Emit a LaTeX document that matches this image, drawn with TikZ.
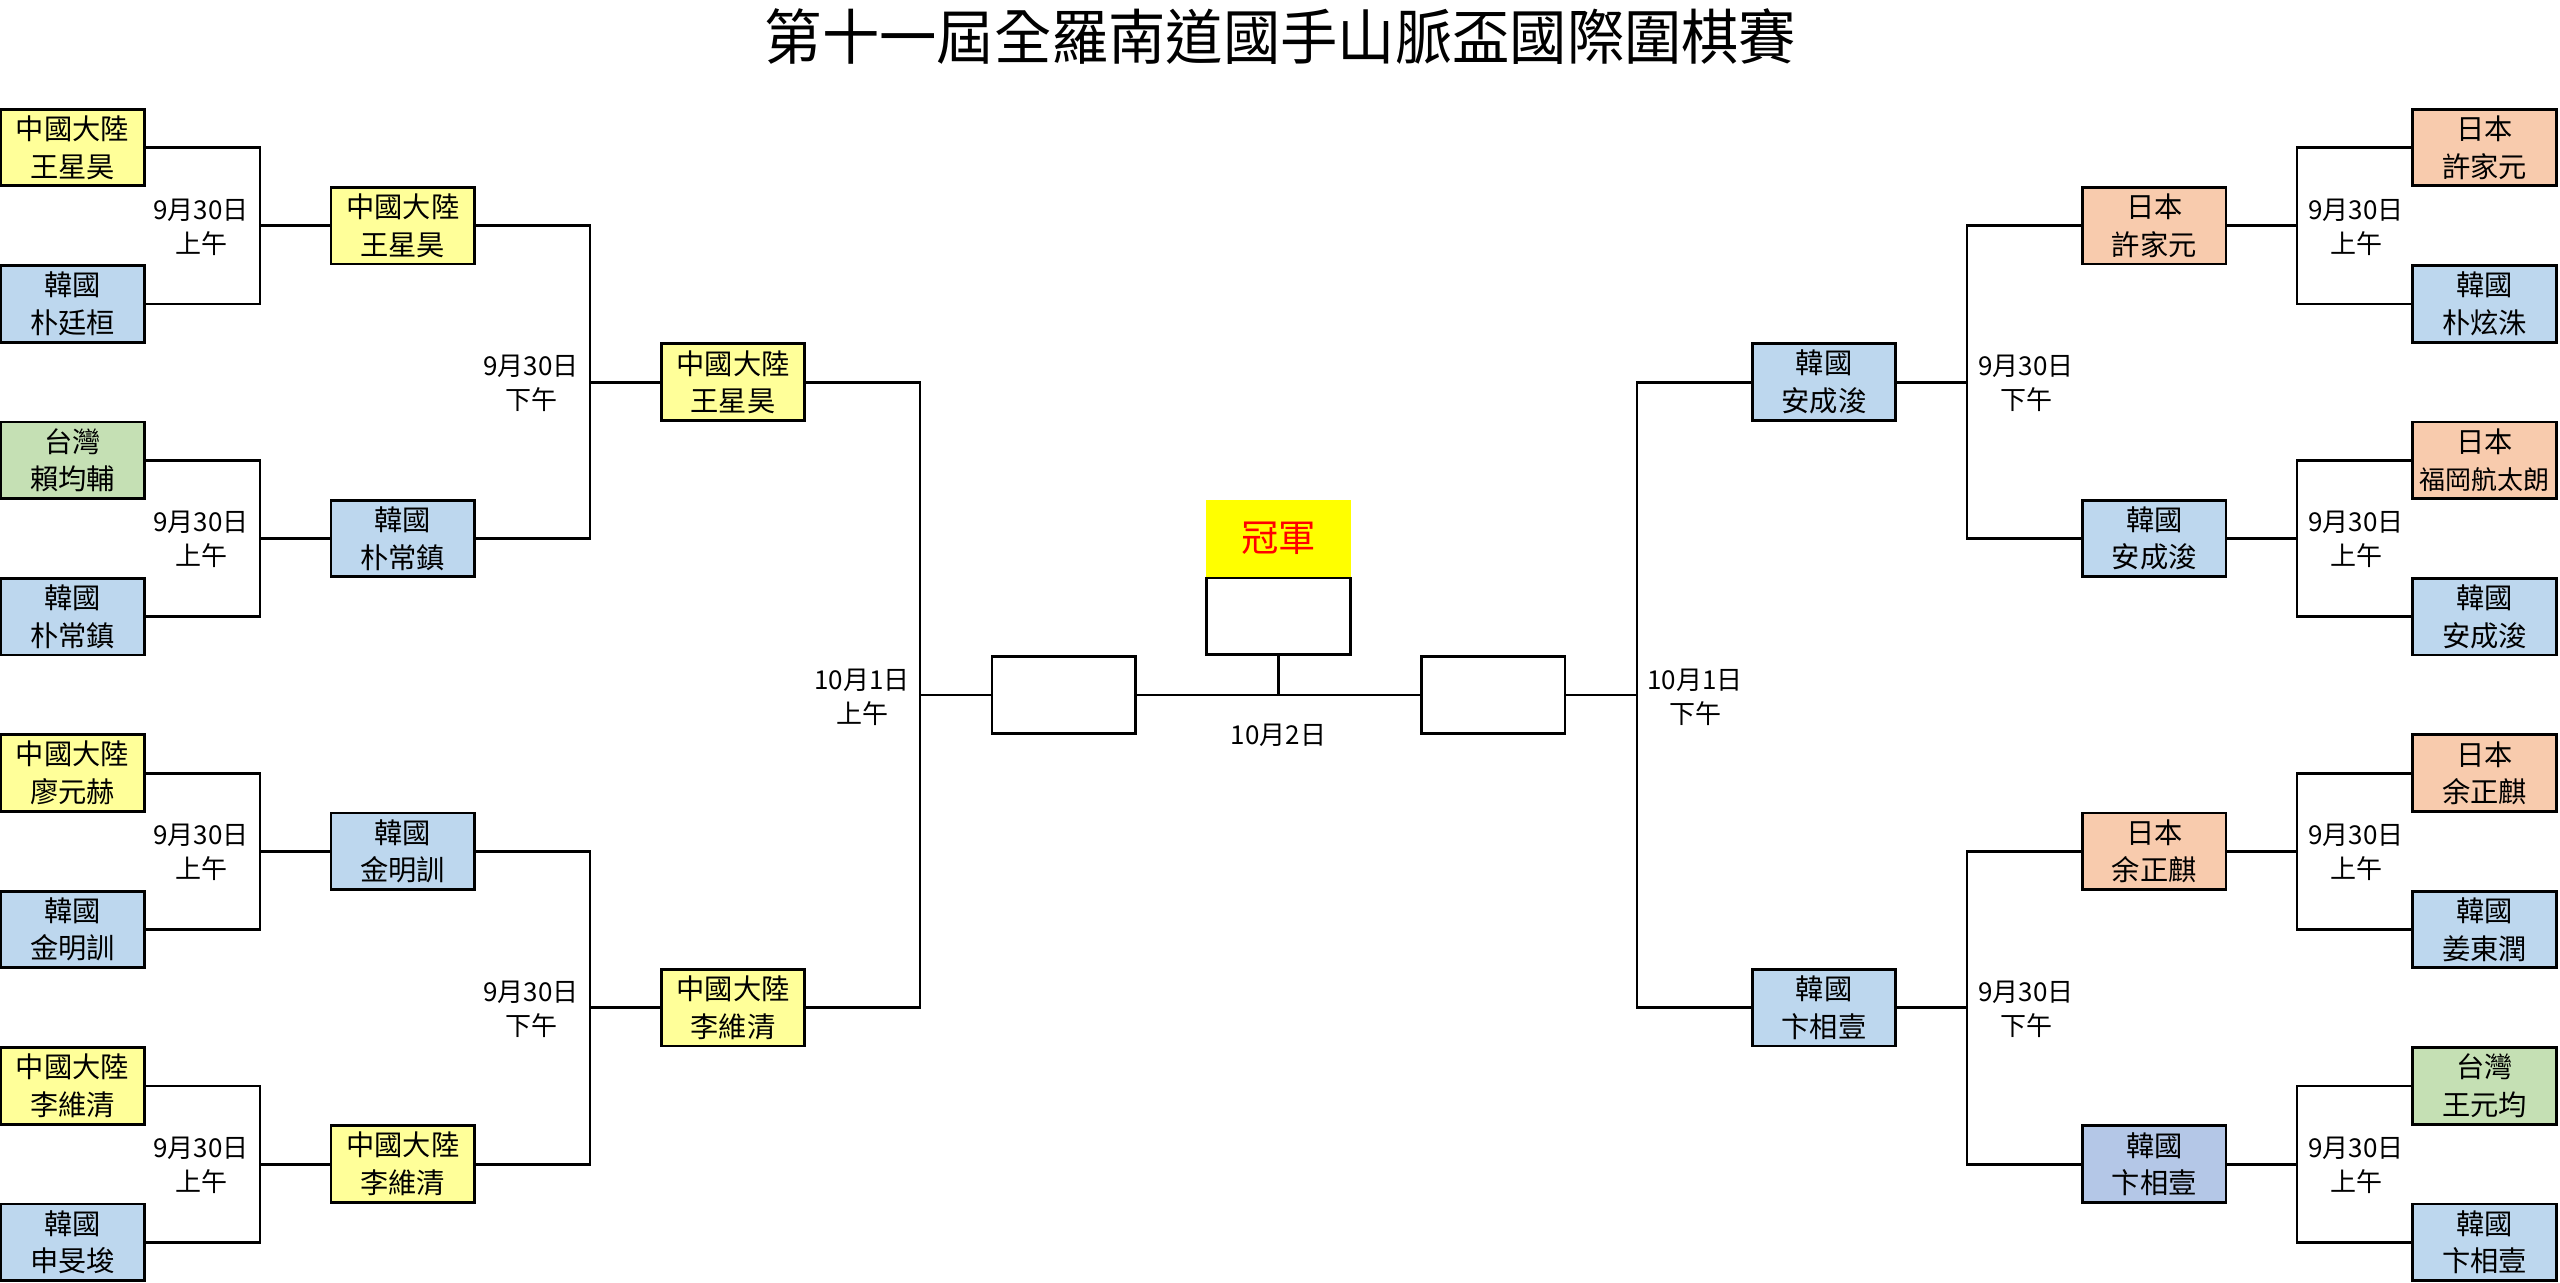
\documentclass[tikz,border=0pt]{standalone}
\usepackage{graphicx}
\usepackage{fontspec}
\setmainfont{Noto Sans CJK TC}
\definecolor{cyel}{HTML}{FFFF99}
\definecolor{cblu}{HTML}{BDD7EE}
\definecolor{cgrn}{HTML}{C5E0B4}
\definecolor{corg}{HTML}{F8CBAD}
\definecolor{cbl2}{HTML}{B4C7E7}
\definecolor{chead}{HTML}{FFFF00}
\definecolor{cred}{HTML}{FF0000}
\newcommand{\nmfont}{\fontsize{21.2}{28.2}\selectfont}
\newcommand{\nmsmall}{\fontsize{19.5}{28.2}\selectfont}
\newcommand{\dtfont}{\fontsize{19.5}{25.5}\selectfont}
\newcommand{\ttlfont}{\fontsize{45}{50}\selectfont}
\newcommand{\chfont}{\fontsize{28}{32}\selectfont}
\begin{document}
\begin{tikzpicture}[x=0.75pt,y=-0.75pt,
  box/.style={draw=black,line width=2.1pt,minimum width=107.5pt,minimum height=57.5pt,inner sep=0pt,align=center,font=\nmfont},
  yel/.style={box,fill=cyel},
  blu/.style={box,fill=cblu},
  grn/.style={box,fill=cgrn},
  org/.style={box,fill=corg},
  bl2/.style={box,fill=cbl2},
  emp/.style={box,fill=white},
  datelbl/.style={align=center,inner sep=0pt,font=\dtfont},
  wire/.style={draw=black,line width=2.1pt}]
\useasboundingbox (0,0) rectangle (2560,1282);
\fill[white] (0,0) rectangle (2560,1282);

% title
\node[inner sep=0pt,font=\ttlfont] (title) at (1280.5,37) {\scalebox{0.955}[1]{第十一屆全羅南道國手山脈盃國際圍棋賽}};

% left round 1
\node[yel] (L1) at (72.5,147.5) {中國大陸\\王星昊};
\node[blu] (L2) at (72.5,303.9) {韓國\\朴廷桓};
\node[grn] (L3) at (72.5,460.3) {台灣\\賴均輔};
\node[blu] (L4) at (72.5,616.7) {韓國\\朴常鎮};
\node[yel] (L5) at (72.5,773.1) {中國大陸\\廖元赫};
\node[blu] (L6) at (72.5,929.5) {韓國\\金明訓};
\node[yel] (L7) at (72.5,1085.9) {中國大陸\\李維清};
\node[blu] (L8) at (72.5,1242.3) {韓國\\申旻埈};
% left round 2
\node[yel] (LM1) at (402.75,225.7) {中國大陸\\王星昊};
\node[blu] (LM2) at (402.75,538.5) {韓國\\朴常鎮};
\node[blu] (LM3) at (402.75,851.3) {韓國\\金明訓};
\node[yel] (LM4) at (402.75,1164.1) {中國大陸\\李維清};
% left round 3
\node[yel] (LS1) at (733,382.1) {中國大陸\\王星昊};
\node[yel] (LS2) at (733,1007.7) {中國大陸\\李維清};

% right round 1
\node[org] (R1) at (2484.5,147.5) {日本\\許家元};
\node[blu] (R2) at (2484.5,303.9) {韓國\\朴炫洙};
\node[org] (R3) at (2484.5,460.3) {日本\\{\nmsmall 福岡航太朗}};
\node[blu] (R4) at (2484.5,616.7) {韓國\\安成浚};
\node[org] (R5) at (2484.5,773.1) {日本\\余正麒};
\node[blu] (R6) at (2484.5,929.5) {韓國\\姜東潤};
\node[grn] (R7) at (2484.5,1085.9) {台灣\\王元均};
\node[blu] (R8) at (2484.5,1242.3) {韓國\\卞相壹};
% right round 2
\node[org] (RM1) at (2154.25,225.7) {日本\\許家元};
\node[blu] (RM2) at (2154.25,538.5) {韓國\\安成浚};
\node[org] (RM3) at (2154.25,851.3) {日本\\余正麒};
\node[bl2] (RM4) at (2154.25,1164.1) {韓國\\卞相壹};
% right round 3
\node[blu] (RS1) at (1824,382.1) {韓國\\安成浚};
\node[blu] (RS2) at (1824,1007.7) {韓國\\卞相壹};

% finals
\node[emp] (FL) at (1063.6,694.9) {};
\node[emp] (FR) at (1493.4,694.9) {};
\node[emp] (CB) at (1278.5,616.3) {};
\node[fill=chead,minimum width=108.75pt,minimum height=57.75pt,inner sep=0pt,font=\chfont,text=cred] (CH) at (1278.5,538) {冠軍};

% junction coordinates
\coordinate (JL1) at (260,225.7);
\coordinate (JL2) at (260,538.5);
\coordinate (JL3) at (260,851.3);
\coordinate (JL4) at (260,1164.1);
\coordinate (JLM1) at (590,382.1);
\coordinate (JLM2) at (590,1007.7);
\coordinate (JLS) at (920,694.9);
\coordinate (JR1) at (2297,225.7);
\coordinate (JR2) at (2297,538.5);
\coordinate (JR3) at (2297,851.3);
\coordinate (JR4) at (2297,1164.1);
\coordinate (JRM1) at (1967,382.1);
\coordinate (JRM2) at (1967,1007.7);
\coordinate (JRS) at (1637,694.9);
\coordinate (JC) at (1278.5,694.9);

% left connectors
\foreach \a/\b/\j/\m in {L1/L2/JL1/LM1, L3/L4/JL2/LM2, L5/L6/JL3/LM3, L7/L8/JL4/LM4,
  LM1/LM2/JLM1/LS1, LM3/LM4/JLM2/LS2, LS1/LS2/JLS/FL} {
  \draw[wire] (\a.east) -| (\j) |- (\b.east);
  \draw[wire] (\j) -- (\m.west);
}
% right connectors
\foreach \a/\b/\j/\m in {R1/R2/JR1/RM1, R3/R4/JR2/RM2, R5/R6/JR3/RM3, R7/R8/JR4/RM4,
  RM1/RM2/JRM1/RS1, RM3/RM4/JRM2/RS2, RS1/RS2/JRS/FR} {
  \draw[wire] (\a.west) -| (\j) |- (\b.west);
  \draw[wire] (\j) -- (\m.east);
}
% final connectors
\draw[wire] (FL.east) -- (FR.west);
\draw[wire] (CB.south) -- (JC);

% date labels
\foreach \y [count=\i] in {227,539.8,852.6,1165.4} {
  \node[datelbl] (dl\i) at (201,\y) {9月30日\\上午};
  \node[datelbl] (dr\i) at (2356,\y) {9月30日\\上午};
}
\node[datelbl] (dlm1) at (531,383.5) {9月30日\\下午};
\node[datelbl] (dlm2) at (531,1009.1) {9月30日\\下午};
\node[datelbl] (drm1) at (2026,383.5) {9月30日\\下午};
\node[datelbl] (drm2) at (2026,1009.1) {9月30日\\下午};
\node[datelbl] (dls) at (862,697) {10月1日\\上午};
\node[datelbl] (drs) at (1695,697) {10月1日\\下午};
\node[datelbl] (dfin) at (1278.5,735) {10月2日};
\end{tikzpicture}
\end{document}
